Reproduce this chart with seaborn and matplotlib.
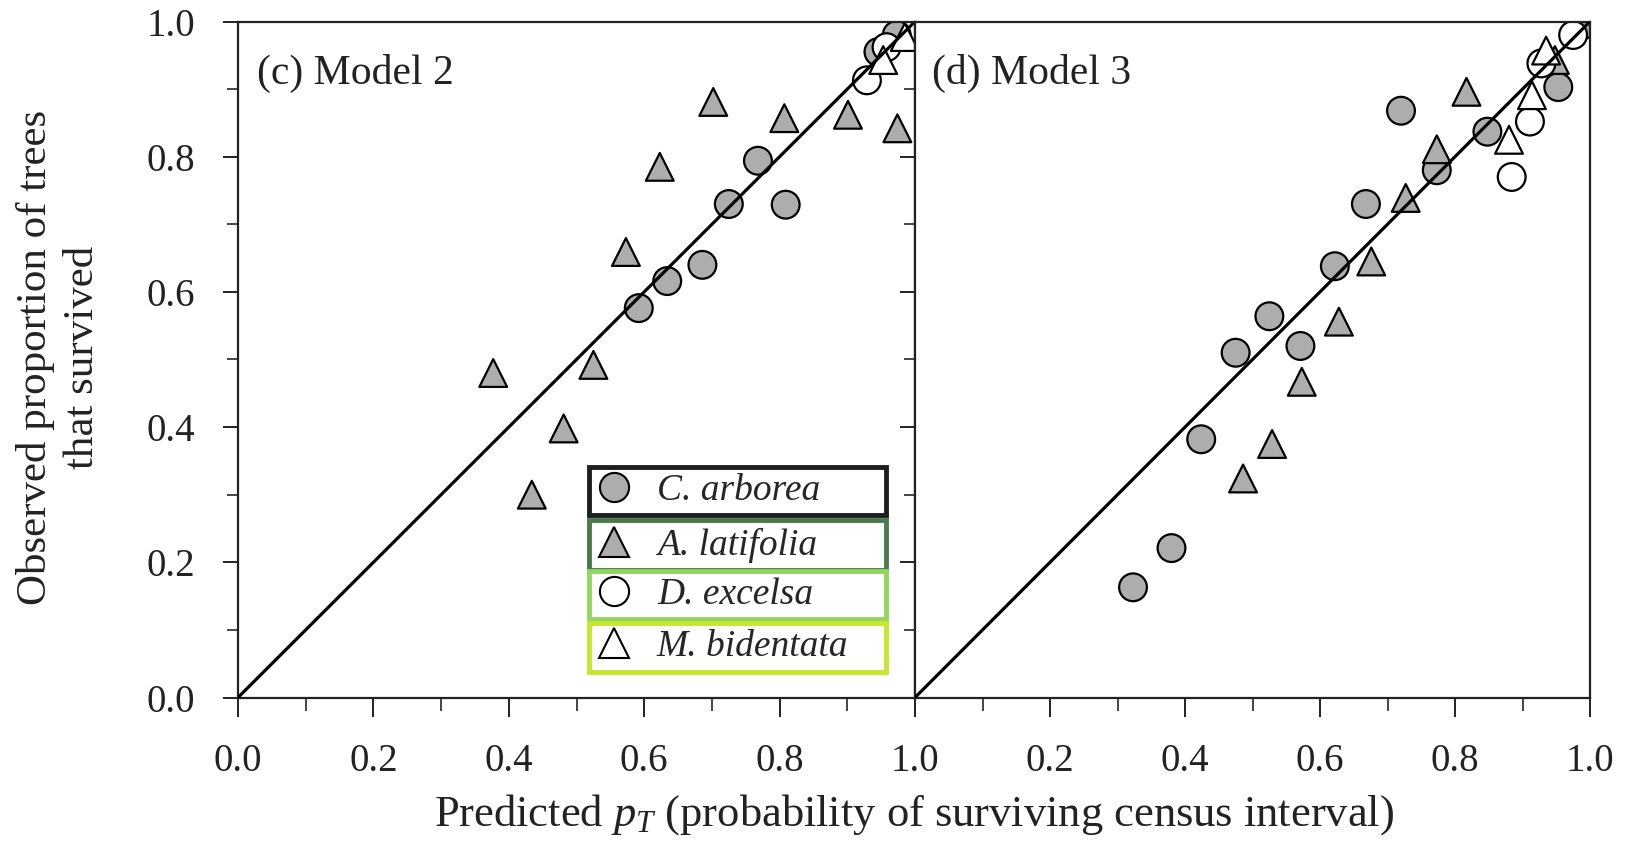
import matplotlib
matplotlib.use("Agg")
import matplotlib.pyplot as plt
from matplotlib.lines import Line2D
from matplotlib.ticker import MultipleLocator, FormatStrFormatter, FixedLocator, FixedFormatter
import pandas as pd
import seaborn as sns

# ---- data: predicted vs observed survival proportion ----
species_names = ["C. arborea", "A. latifolia", "D. excelsa", "M. bidentata"]

m2_arborea_pred = [0.592, 0.634, 0.686, 0.725, 0.768, 0.809, 0.946, 0.973]
m2_arborea_obs = [0.576, 0.616, 0.640, 0.730, 0.794, 0.729, 0.955, 0.980]
m2_latifolia_pred = [0.377, 0.434, 0.481, 0.525, 0.573, 0.623, 0.702, 0.807, 0.901, 0.974]
m2_latifolia_obs = [0.480, 0.300, 0.398, 0.492, 0.659, 0.785, 0.881, 0.857, 0.862, 0.842]
m2_excelsa_pred = [0.929, 0.958]
m2_excelsa_obs = [0.913, 0.962]
m2_bidentata_pred = [0.953, 0.985]
m2_bidentata_obs = [0.943, 0.977]

m3_arborea_pred = [0.323, 0.380, 0.424, 0.475, 0.525, 0.571, 0.622, 0.668, 0.720, 0.773, 0.848, 0.953, 0.990]
m3_arborea_obs = [0.163, 0.221, 0.382, 0.510, 0.564, 0.520, 0.638, 0.730, 0.868, 0.780, 0.837, 0.903, 0.995]
m3_latifolia_pred = [0.486, 0.529, 0.573, 0.628, 0.676, 0.727, 0.773, 0.817, 0.948]
m3_latifolia_obs = [0.324, 0.375, 0.467, 0.556, 0.645, 0.739, 0.811, 0.896, 0.943]
m3_excelsa_pred = [0.884, 0.911, 0.928, 0.975]
m3_excelsa_obs = [0.770, 0.852, 0.938, 0.980]
m3_bidentata_pred = [0.880, 0.914, 0.935]
m3_bidentata_obs = [0.825, 0.891, 0.957]

panel_titles = ["(c) Model 2", "(d) Model 3"]
y_tick_values = [0.0, 0.2, 0.4, 0.6, 0.8, 1.0]
x_tick_labels_right = ["", "0.2", "0.4", "0.6", "0.8", "1.0"]


def frame(model, groups):
    rows = []
    for name, (px, oy) in zip(species_names, groups):
        for a, b in zip(px, oy):
            rows.append({"model": model, "species": name, "pred": a, "obs": b})
    return pd.DataFrame(rows)


df = pd.concat([
    frame("Model 2", [(m2_arborea_pred, m2_arborea_obs), (m2_latifolia_pred, m2_latifolia_obs),
                      (m2_excelsa_pred, m2_excelsa_obs), (m2_bidentata_pred, m2_bidentata_obs)]),
    frame("Model 3", [(m3_arborea_pred, m3_arborea_obs), (m3_latifolia_pred, m3_latifolia_obs),
                      (m3_excelsa_pred, m3_excelsa_obs), (m3_bidentata_pred, m3_bidentata_obs)]),
], ignore_index=True)

# ---- styling ----
sns.set_theme(style="white")
serif = ["Liberation Serif", "DejaVu Serif"]
plt.rcParams["font.family"] = serif
plt.rcParams["mathtext.fontset"] = "custom"
plt.rcParams["mathtext.rm"] = "Liberation Serif"
plt.rcParams["mathtext.it"] = "Liberation Serif:italic"

INK = "#222222"
GRAY = "#adadad"
face = {"C. arborea": GRAY, "A. latifolia": GRAY, "D. excelsa": "white", "M. bidentata": "white"}
shape = {"C. arborea": "o", "A. latifolia": "^", "D. excelsa": "o", "M. bidentata": "^"}
box_colors = ["#1e1e1e", "#497a4b", "#92d65e", "#c8e62c"]

W, H = 1629, 842
fig = plt.figure(figsize=(W / 100, H / 100), dpi=100)
bottom = (H - 697.5) / H
height = 676 / H
ax1 = fig.add_axes([238 / W, bottom, 677 / W, height])
ax2 = fig.add_axes([915 / W, bottom, 675 / W, height])

for ax, model, title, tx in zip([ax1, ax2], ["Model 2", "Model 3"], panel_titles, [0.028, 0.025]):
    sub = df[df["model"] == model]
    sns.scatterplot(data=sub, x="pred", y="obs", hue="species", style="species",
                    palette=face, markers=shape, hue_order=species_names,
                    style_order=species_names, s=400, edgecolor="black",
                    linewidth=1.6, legend=False, ax=ax, zorder=2)
    ax.axline((0, 0), slope=1, color="black", lw=2.3, zorder=3)
    ax.set_xlim(0, 1)
    ax.set_ylim(0, 1)
    ax.set_xlabel("")
    ax.set_ylabel("")
    ax.text(tx, 0.923, title, transform=ax.transAxes,
            fontsize=30, va="center", ha="left", color=INK)
    ax.xaxis.set_major_locator(FixedLocator(y_tick_values))
    ax.xaxis.set_minor_locator(MultipleLocator(0.1))
    ax.yaxis.set_major_locator(FixedLocator(y_tick_values))
    ax.yaxis.set_minor_locator(MultipleLocator(0.1))
    ax.tick_params(axis="x", which="major", direction="out", length=14, width=1.4,
                   pad=19, labelsize=28, colors=INK, bottom=True, top=False)
    ax.tick_params(axis="x", which="minor", direction="out", length=9, width=1.2,
                   bottom=True, top=False)
    ax.tick_params(axis="y", which="major", direction="out", length=11, width=1.4,
                   pad=20, labelsize=28, colors=INK, left=True, right=False)
    ax.tick_params(axis="y", which="minor", direction="out", length=8, width=1.2,
                   left=True, right=False)
    for sp in ax.spines.values():
        sp.set_color(INK)
        sp.set_linewidth(1.6)
    ax.set_facecolor("white")

ax1.xaxis.set_major_formatter(FormatStrFormatter("%.1f"))
ax1.yaxis.set_major_formatter(FormatStrFormatter("%.1f"))
ax2.xaxis.set_major_formatter(FixedFormatter(x_tick_labels_right))
ax2.set_yticklabels([])

ax1.set_ylabel("Observed proportion of trees\nthat survived", fontsize=31,
               color=INK, linespacing=1.3, va="center")
ax1.yaxis.set_label_coords(-0.264, 0.503)

fig.text(0.561, 0.033, "Predicted $p_T$ (probability of surviving census interval)",
         ha="center", va="center", fontsize=32, color=INK)

# ---- one boxed legend entry per species ----
box_y = [(0.270, 0.071), (0.190, 0.071), (0.116, 0.071), (0.039, 0.071)]
for i, (name, col, (y0, h)) in enumerate(zip(species_names, box_colors, box_y)):
    handle = Line2D([], [], ls="", marker=shape[name], markersize=21,
                    markerfacecolor=face[name], markeredgecolor="black", markeredgewidth=1.5)
    leg = ax1.legend([handle], [name], loc="center", mode="expand",
                     bbox_to_anchor=(0.518, y0, 0.439, h), bbox_transform=ax1.transAxes,
                     borderaxespad=0, borderpad=0.19, handlelength=0.95, handletextpad=0.68,
                     frameon=True, fancybox=False, framealpha=1, edgecolor=col,
                     prop={"family": serif, "style": "italic", "size": 27})
    leg.get_frame().set_linewidth(3.5)
    leg.set_zorder(5)
    if i < len(species_names) - 1:
        ax1.add_artist(leg)

fig.savefig("out.png", dpi=100, facecolor="white")
